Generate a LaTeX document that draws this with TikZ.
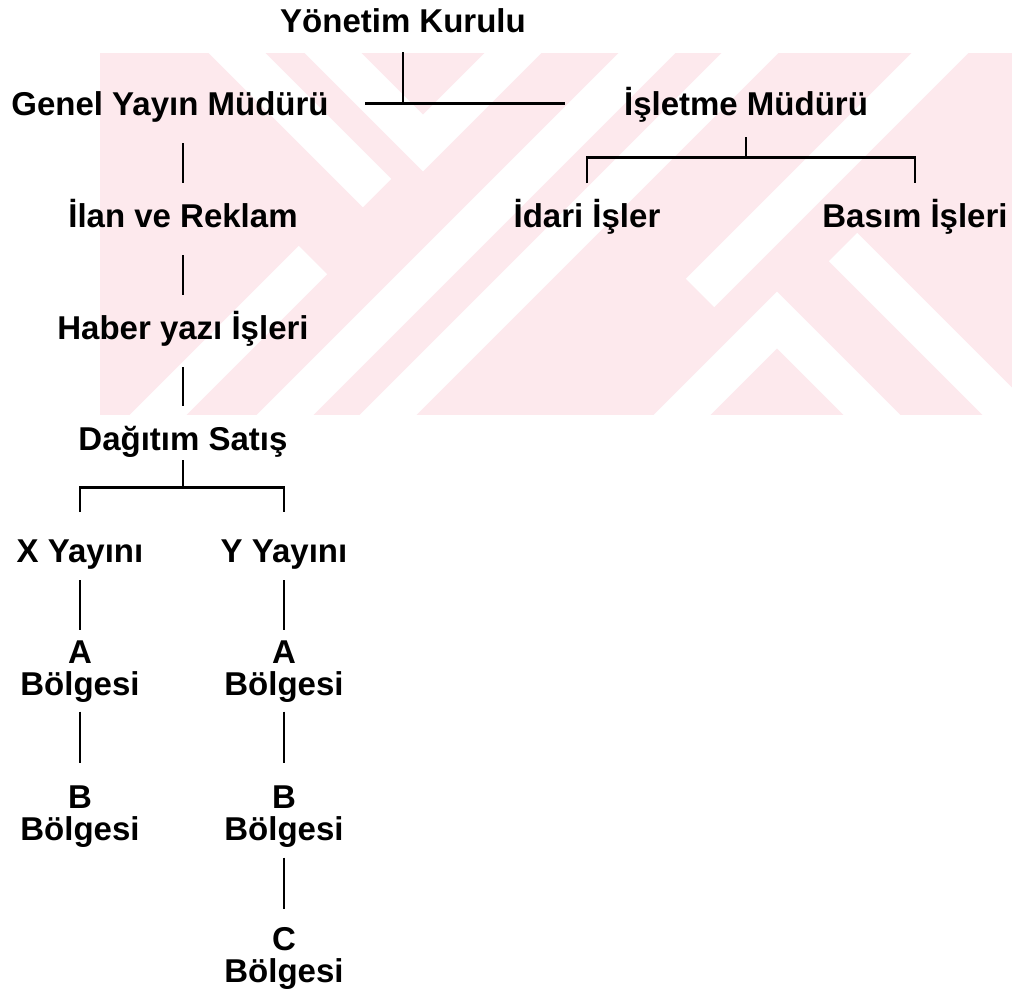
\documentclass[tikz,border=0pt]{standalone}
\usepackage{fontspec}
\setmainfont{Liberation Sans}
\usepackage{tikz}
\usetikzlibrary{positioning}
\definecolor{wmpink}{RGB}{253,233,237}

\begin{document}
\begin{tikzpicture}[% List of styles applied to all, to override specify on a case-by-case
			x=0.5pt, y=-0.5pt,	% one unit is one pixel of the scan, y runs down
			every node/.style={
				inner sep=0pt,  		% lines stop close to the letters
				font=\bfseries\fontsize{16.5}{16}\selectfont
			},
			unit/.style={anchor=base, text height=11.8pt, text depth=0pt},	% one line, set on its baseline
			region/.style={anchor=north, align=center},	% two lines, "\\" breaks them
			every edge/.style={draw, line width=1.4pt},
			link/.style={shorten <=14pt, shorten >=10pt},
			bar/.style={draw, line width=1.4pt},
			band/.style={draw=white, line width=20pt}
		]
		\useasboundingbox (0,0) rectangle (1012,991);
		% faint watermark behind the chart
		\fill[wmpink] (100,53) rectangle (1012,415);
		\begin{scope}
			\clip (100,53) rectangle (1012,415);
			\draw[band] (204,20) -- (377,193);
			\draw[band] (300,20) -- (423,143) -- (546,20);
			\draw[band] (680,20) -- (245,455);
			\draw[band] (783,20) -- (348,455);
			\draw[band] (973,20) -- (700,293);
			\draw[band] (644,453) -- (777,320) -- (910,453);
			\draw[band] (843,247) -- (1050,454);
			\draw[band] (313,260) -- (120,453);
		\end{scope}
		\node[unit](R1) at (403,32) {Yönetim Kurulu};
		\node[unit](R2) at (170,115) {Genel Yayın Müdürü};
		\node[unit](R3) at (746,115) {İşletme Müdürü};
		\node[unit](R4) at (183,227) {İlan ve Reklam};
		\node[unit](R5) at (587,227) {İdari İşler};
		\node[unit](R6) at (915,227) {Basım İşleri};
		\node[unit](R7) at (183,339) {Haber yazı İşleri};
		\node[unit](R8) at (183,450) {Dağıtım Satış};
		\node[unit](R9) at (80,562) {X Yayını};
		\node[unit](R10) at (284,562) {Y Yayını};
		\node[region](R11) at (80,640) {A\\Bölgesi};
		\node[region](R12) at (284,640) {A\\Bölgesi};
		\node[region](R13) at (80,785) {B\\Bölgesi};
		\node[region](R14) at (284,785) {B\\Bölgesi};
		\node[region](R15) at (284,927) {C\\Bölgesi};
		\path (R3.south) ++(0,42) coordinate (C1);
		\path (R8.south) ++(0,37) coordinate (C2);
		\path
		(R1)edge [shorten <=10pt]	(R1 |- R2)
		(R2)edge [shorten <=18pt, shorten >=29.5pt]	(R3)
		(R2.south -| R4)edge [link]	(R4)
		(R4)edge [link]	(R7)
		(R7)edge [link]	(R8)
		(R3)edge [shorten <=11pt]	(C1)
		(R8)edge [shorten <=5pt]	(C2)
		(R9)edge [shorten <=9pt, shorten >=5pt]	(R11)
		(R10)edge [shorten <=9pt, shorten >=5pt]	(R12)
		(R11)edge [shorten <=4.5pt, shorten >=11pt]	(R13)
		(R12)edge [shorten <=4.5pt, shorten >=11pt]	(R14)
		(R14)edge [shorten <=5pt, shorten >=9pt]	(R15)
		;
		\draw[bar, shorten <=10pt, shorten >=10pt] (R5) |- (C1) -| (R6);
		\draw[bar, shorten <=13pt, shorten >=13pt] (R9) |- (C2) -| (R10);
	\end{tikzpicture}
\end{document}
